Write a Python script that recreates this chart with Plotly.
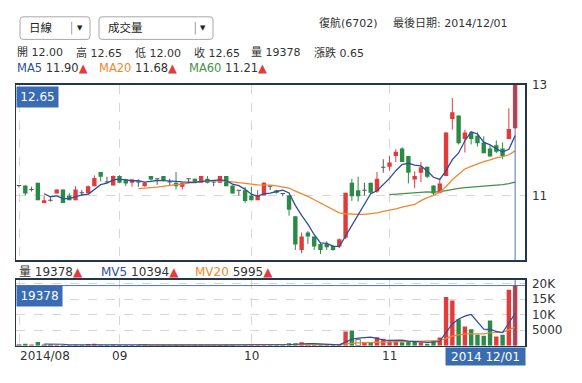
import plotly.graph_objects as go
import pandas as pd

W, H = 582, 383

# ---------------- data ----------------
opens = [11.15, 11.15, 11.09, 11.19, 10.89, 10.93, 11.03, 11.09, 11.00, 10.93,
         11.04, 11.03, 11.14, 11.35, 11.20, 11.15, 11.29, 11.24, 11.19, 11.20,
         11.14, 11.29, 11.25, 11.29, 11.20, 11.19, 11.13, 11.25, 11.25, 11.19,
         11.25, 11.20, 11.19, 11.29, 11.15, 11.08, 11.08, 11.00, 10.93, 11.00,
         11.14, 11.08, 11.03, 11.00, 10.69, 10.19, 10.45, 10.39, 10.28, 10.28,
         10.25, 10.24, 10.37, 11.19, 11.08, 11.08, 11.19, 11.06, 11.42, 11.43,
         11.59, 11.70, 11.59, 11.24, 11.34, 11.43, 11.15, 11.04, 11.29, 12.14,
         12.19, 11.84, 11.94, 11.89, 11.79, 11.70, 11.75, 11.70, 11.84, 12.00]
highs = [11.15, 11.15, 11.13, 11.19, 11.00, 10.98, 11.09, 11.09, 11.04, 11.14,
         11.08, 11.15, 11.30, 11.35, 11.28, 11.30, 11.30, 11.25, 11.25, 11.24,
         11.20, 11.29, 11.25, 11.29, 11.25, 11.35, 11.19, 11.25, 11.25, 11.29,
         11.29, 11.23, 11.29, 11.29, 11.15, 11.08, 11.13, 11.13, 11.08, 11.20,
         11.14, 11.08, 11.03, 11.00, 10.69, 10.45, 10.47, 10.39, 10.30, 10.32,
         10.26, 10.36, 11.04, 11.25, 11.28, 11.19, 11.19, 11.35, 11.54, 11.59,
         11.69, 11.72, 11.59, 11.36, 11.50, 11.43, 11.15, 11.25, 11.94, 12.45,
         12.19, 11.98, 11.95, 11.94, 11.88, 11.74, 11.82, 11.79, 12.30, 12.65]
lows = [11.12, 11.00, 11.06, 10.93, 10.89, 10.91, 11.03, 10.89, 10.93, 10.93,
        11.00, 11.03, 11.14, 11.21, 11.19, 11.15, 11.19, 11.14, 11.13, 11.13,
        11.13, 11.22, 11.16, 11.21, 11.15, 11.09, 11.09, 11.19, 11.19, 11.19,
        11.18, 11.14, 11.19, 11.14, 11.03, 11.00, 10.89, 10.93, 10.93, 11.00,
        11.08, 11.03, 10.99, 10.70, 10.19, 10.14, 10.28, 10.19, 10.13, 10.19,
        10.18, 10.22, 10.35, 10.92, 10.91, 11.00, 11.03, 11.04, 11.34, 11.37,
        11.50, 11.50, 11.18, 11.11, 11.20, 11.26, 11.01, 11.03, 11.29, 11.98,
        11.76, 11.64, 11.76, 11.73, 11.63, 11.58, 11.63, 11.54, 11.84, 12.00]
closes = [11.15, 11.03, 11.09, 10.93, 10.93, 10.93, 11.09, 10.89, 10.93, 11.09,
          11.04, 11.14, 11.26, 11.28, 11.20, 11.29, 11.19, 11.18, 11.24, 11.20,
          11.19, 11.24, 11.25, 11.23, 11.20, 11.14, 11.19, 11.25, 11.19, 11.29,
          11.19, 11.20, 11.29, 11.14, 11.03, 11.08, 10.92, 10.93, 11.00, 11.19,
          11.14, 11.04, 11.03, 10.79, 10.27, 10.39, 10.39, 10.24, 10.19, 10.23,
          10.19, 10.35, 11.04, 10.99, 10.99, 11.08, 11.04, 11.25, 11.42, 11.49,
          11.65, 11.50, 11.34, 11.29, 11.42, 11.28, 11.03, 11.18, 11.94, 12.24,
          11.78, 11.94, 11.84, 11.78, 11.63, 11.58, 11.65, 11.59, 11.99, 12.65]
volumes = [300, 650, 350, 1200, 250, 300, 300, 250, 200, 300,
           200, 550, 600, 300, 250, 350, 300, 250, 200, 250,
           200, 150, 150, 200, 150, 250, 200, 150, 200, 250,
           150, 150, 300, 200, 250, 150, 300, 200, 300, 450,
           200, 250, 300, 750, 800, 1100, 500, 300, 300, 250,
           250, 350, 4600, 4900, 2000, 1100, 1100, 2700, 2200, 1400,
           1600, 1100, 1200, 1300, 1000, 600, 1500, 2670, 15660, 14600,
           8500, 6200, 5300, 3500, 3200, 8100, 3000, 3500, 17992, 19378]

month_ticks = [0, 16, 37, 59]
month_labels = ["2014/08", "09", "10", "11"]
price_tickvals = [12.65, 11.0]
price_ticktext = ["13", "11"]
vol_tickvals = [20000, 15000, 10000, 5000]
vol_ticktext = ["20K", "15K", "10K", "5000"]

header_items = ["開 12.00", "高 12.65", "低 12.00", "收 12.65", "量 19378", "漲跌 0.65"]
ma_items = [("MA5", "11.90"), ("MA20", "11.68"), ("MA60", "11.21")]
vol_items = [("量", "19378"), ("MV5", "10394"), ("MV20", "5995")]
last_date_label = "2014 12/01"

# ---------------- styling ----------------
FONT = "DejaVu Sans, Noto Sans CJK TC, sans-serif"
RED = "#e23b3b"
GREEN = "#2b8a47"
DOJI = "#555555"
BLUE = "#2d4f9f"
ORANGE = "#f0872e"
MGREEN = "#44904a"
LABEL_BG = "#3a6cb4"
BORDER = "#22364e"
GRID = "#d6d6d6"
BODY_W = 0.7
DOJI_H = 0.015


def px(x):
    return x / W


def py(y):
    return 1 - y / H


idx = list(range(len(closes)))
s_close = pd.Series(closes)
s_vol = pd.Series(volumes)
ma5 = s_close.rolling(5).mean()
ma20 = s_close.rolling(20).mean()
ma60 = s_close.rolling(60).mean()
mv5 = s_vol.rolling(5).mean()
mv20 = s_vol.rolling(20).mean()


def candle_color(i):
    if closes[i] > opens[i]:
        return RED
    if closes[i] < opens[i]:
        return GREEN
    return DOJI


fig = go.Figure()

# wicks, one trace per colour
for col in (RED, GREEN, DOJI):
    wx, wy = [], []
    for i in idx:
        if candle_color(i) == col:
            wx += [i, i, None]
            wy += [lows[i], highs[i], None]
    fig.add_trace(go.Scatter(x=wx, y=wy, mode="lines", line=dict(color=col, width=1),
                             hoverinfo="skip", showlegend=False, xaxis="x", yaxis="y"))

# bodies
body_base, body_len, body_col = [], [], []
for i in idx:
    lo, hi = min(opens[i], closes[i]), max(opens[i], closes[i])
    if hi - lo < DOJI_H:
        mid = (hi + lo) / 2
        lo, hi = mid - DOJI_H / 2, mid + DOJI_H / 2
    body_base.append(lo)
    body_len.append(hi - lo)
    body_col.append(candle_color(i))
fig.add_trace(go.Bar(x=idx, y=body_len, base=body_base, width=BODY_W,
                     marker=dict(color=body_col, line=dict(width=0)),
                     hoverinfo="skip", showlegend=False, xaxis="x", yaxis="y"))

for ser, col in [(ma60, MGREEN), (ma20, ORANGE), (ma5, BLUE)]:
    fig.add_trace(go.Scatter(x=idx, y=ser, mode="lines",
                             line=dict(color=col, width=1.3),
                             hoverinfo="skip", showlegend=False,
                             xaxis="x", yaxis="y"))

# volume bars colored by change vs previous close
bar_colors, bar_line_colors, bar_line_widths = [], [], []
for i in idx:
    if i == 0 or closes[i] == closes[i - 1]:
        bar_colors.append("white")
        bar_line_colors.append("#777777")
        bar_line_widths.append(1)
    elif closes[i] > closes[i - 1]:
        bar_colors.append(RED)
        bar_line_colors.append(RED)
        bar_line_widths.append(0)
    else:
        bar_colors.append(GREEN)
        bar_line_colors.append(GREEN)
        bar_line_widths.append(0)

fig.add_trace(go.Bar(x=idx, y=volumes, width=BODY_W,
                     marker=dict(color=bar_colors,
                                 line=dict(color=bar_line_colors, width=bar_line_widths)),
                     hoverinfo="skip", showlegend=False, xaxis="x2", yaxis="y2"))
for ser, col in [(mv20, ORANGE), (mv5, BLUE)]:
    fig.add_trace(go.Scatter(x=idx, y=ser, mode="lines",
                             line=dict(color=col, width=1.2),
                             hoverinfo="skip", showlegend=False,
                             xaxis="x2", yaxis="y2"))

# ---------------- layout ----------------
x_dom = [px(16), px(525)]
main_dom = [py(258), py(79)]
vol_dom = [py(345), py(278)]
x_range = [-0.48, 80.57]

axis_common = dict(showline=True, mirror=True, linecolor=BORDER, linewidth=1.5,
                   zeroline=False, fixedrange=True)

fig.update_layout(
    width=W, height=H, margin=dict(l=0, r=0, t=0, b=0),
    paper_bgcolor="white", plot_bgcolor="white",
    font=dict(family=FONT, size=12, color="#333333"),
    showlegend=False, barmode="overlay", hovermode=False,
    xaxis=dict(domain=x_dom, range=x_range, tickvals=month_ticks,
               showticklabels=False, ticks="", showgrid=True, gridcolor=GRID,
               griddash="dash", anchor="y", **axis_common),
    yaxis=dict(domain=main_dom, range=[10.036, 12.652], side="right",
               tickvals=price_tickvals, ticktext=price_ticktext, ticks="",
               ticklabelstandoff=3, showgrid=True, gridcolor=GRID, griddash="dash",
               tickfont=dict(family=FONT, size=12, color="#333333"), anchor="x",
               **axis_common),
    xaxis2=dict(domain=x_dom, range=x_range, tickvals=month_ticks,
                showticklabels=False, ticks="", showgrid=True, gridcolor=GRID,
                griddash="dash", anchor="y2", **axis_common),
    yaxis2=dict(domain=vol_dom, range=[0, 21200], side="right",
                tickvals=vol_tickvals, ticktext=vol_ticktext, ticks="",
                ticklabelstandoff=3, showgrid=True, gridcolor=GRID, griddash="dash",
                tickfont=dict(family=FONT, size=12, color="#333333"), anchor="x2",
                **axis_common),
)


def rrect(x0, y0, x1, y1, r=3):
    pts = [
        f"M {px(x0 + r)},{py(y0)}", f"L {px(x1 - r)},{py(y0)}",
        f"Q {px(x1)},{py(y0)} {px(x1)},{py(y0 + r)}",
        f"L {px(x1)},{py(y1 - r)}",
        f"Q {px(x1)},{py(y1)} {px(x1 - r)},{py(y1)}",
        f"L {px(x0 + r)},{py(y1)}",
        f"Q {px(x0)},{py(y1)} {px(x0)},{py(y1 - r)}",
        f"L {px(x0)},{py(y0 + r)}",
        f"Q {px(x0)},{py(y0)} {px(x0 + r)},{py(y0)} Z",
    ]
    return " ".join(pts)


shapes = []
for (x0, x1, sep) in [(20, 90, 71.7), (99, 213, 195.3)]:
    shapes.append(dict(type="path", xref="paper", yref="paper",
                       path=rrect(x0, 10, x1, 33),
                       line=dict(color="#a8a8a8", width=1), fillcolor="white"))
    shapes.append(dict(type="line", xref="paper", yref="paper",
                       x0=px(sep), x1=px(sep), y0=py(15), y1=py(28),
                       line=dict(color="#a0a0a0", width=1)))
CROSS = "rgba(45,95,175,0.85)"
shapes.append(dict(type="line", xref="x", yref="paper", x0=idx[-1], x1=idx[-1],
                   y0=main_dom[0], y1=main_dom[1], line=dict(color=CROSS, width=1)))
shapes.append(dict(type="line", xref="x2", yref="paper", x0=idx[-1], x1=idx[-1],
                   y0=vol_dom[0], y1=vol_dom[1], line=dict(color=CROSS, width=1)))
shapes.append(dict(type="line", xref="paper", yref="y2", x0=x_dom[0], x1=x_dom[1],
                   y0=volumes[-1], y1=volumes[-1], line=dict(color=CROSS, width=1)))
fig.update_layout(shapes=shapes)

ann = []


def text(x, y, t, size=11, color="#333333", xanchor="left", **kw):
    ann.append(dict(x=px(x), y=py(y), xref="paper", yref="paper", text=t,
                    showarrow=False, xanchor=xanchor, yanchor="middle",
                    font=dict(family=FONT, size=size, color=color), **kw))


text(27, 21.7, "日線", size=11.5, color="#222222")
text(80, 21.5, "▼", size=7, color="#222222", xanchor="center")
text(106, 21.7, "成交量", size=11.5, color="#222222")
text(203.3, 21.5, "▼", size=7, color="#222222", xanchor="center")
text(380, 16, "復航(6702)", size=11, xanchor="right")
text(510, 16, "最後日期: 2014/12/01", size=11, xanchor="right")
for xpos, t in zip([15, 74, 132.7, 191.7, 249.3, 311.7], header_items):
    text(xpos, 46.5, t, size=11)
TRI = f"<span style='color:{RED}'>▲</span>"
for xpos, (nm, val), col in zip([15, 96.7, 186.7], ma_items, [BLUE, ORANGE, MGREEN]):
    text(xpos, 62, f"<span style='color:{col}'>{nm}</span> {val}{TRI}", size=11.5)
for xpos, (nm, val), col in zip([16.7, 99.3, 193.3], vol_items, ["#333333", BLUE, ORANGE]):
    text(xpos, 270, f"<span style='color:{col}'>{nm}</span> {val}{TRI}", size=12)

ann.append(dict(x=month_ticks[0], y=py(355), xref="x2", yref="paper",
                text=month_labels[0], showarrow=False, xanchor="left", yanchor="middle",
                xshift=-1, font=dict(family=FONT, size=12, color="#333333")))
for xv, lab in zip(month_ticks[1:], month_labels[1:]):
    ann.append(dict(x=xv, y=py(355), xref="x2", yref="paper", text=lab,
                    showarrow=False, xanchor="center", yanchor="middle",
                    font=dict(family=FONT, size=12, color="#333333")))

ann.append(dict(x=px(16), y=py(80), xref="paper", yref="paper", text=f"{closes[-1]:.2f}",
                showarrow=False, xanchor="left", yanchor="top", bgcolor=LABEL_BG,
                borderpad=2, width=37, height=16,
                font=dict(family=FONT, size=12, color="white")))
ann.append(dict(x=px(16), y=py(283), xref="paper", yref="paper", text=f"{volumes[-1]}",
                showarrow=False, xanchor="left", yanchor="top", bgcolor=LABEL_BG,
                borderpad=2, width=41, height=16,
                font=dict(family=FONT, size=12, color="white")))
ann.append(dict(x=px(526), y=py(346), xref="paper", yref="paper", text=last_date_label,
                showarrow=False, xanchor="right", yanchor="top", bgcolor=LABEL_BG,
                borderpad=2, width=75, height=13,
                font=dict(family=FONT, size=12, color="white")))

fig.update_layout(annotations=ann)

fig.write_html("out.html", config={"displayModeBar": False, "staticPlot": True},
               post_script="document.body.style.margin='0';document.body.style.overflow='hidden';")
